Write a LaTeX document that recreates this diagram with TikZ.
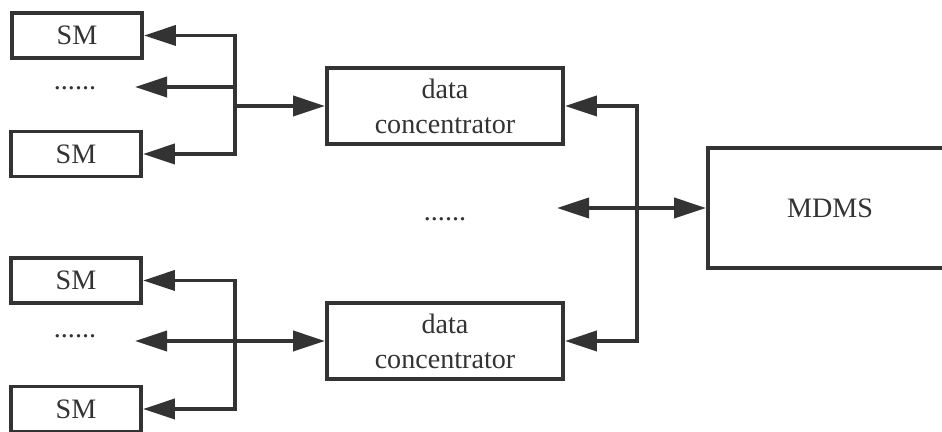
\documentclass[tikz,border=0pt]{standalone}
\usepackage{fontspec}
\setmainfont{Liberation Serif}
\usetikzlibrary{arrows.meta}
\definecolor{linegray}{HTML}{333333}

\begin{document}
\begin{tikzpicture}[x=2mm, y=-2mm,
    box/.style = {draw=linegray, line width=2.2pt, align=center,
        font=\fontsize{16}{20}\selectfont, text=linegray, inner sep=0pt},
    smbox/.style = {box, minimum width=26mm, minimum height=9mm},
    dcbox/.style = {box, minimum width=47.2mm, minimum height=15.2mm},
    dots/.style = {font=\fontsize{16}{20}\selectfont, text=linegray},
    arr/.style = {draw=linegray, line width=2.2pt,
        -{Triangle[length=6.4mm, width=4mm]}}]
  \useasboundingbox (0,0) rectangle (94.2,43.2);
  % meters
  \node (sm1) [smbox] at (7.7,3.55) {SM};
  \node (dt1) [dots] at (7.5,8.8) {......};
  \node (sm2) [smbox] at (7.6,15.4) {SM};
  \node (sm3) [smbox] at (7.6,28.05) {SM};
  \node (dt2) [dots] at (7.5,33.6) {......};
  \node (sm4) [smbox] at (7.6,40.9) {SM};
  % concentrators and MDMS
  \node (dc1) [dcbox] at (44.5,10.6) {data\\concentrator};
  \node (dc2) [dcbox] at (44.5,34.1) {data\\concentrator};
  \node (dt3) [dots] at (44.5,21.9) {......};
  \node (mdms) [box, minimum width=48.8mm, minimum height=24mm]
      at (83,20.8) {MDMS};
  % bus points
  \coordinate (b1) at (23.5,10.6);
  \coordinate (m1) at (13.5,8.7);
  \coordinate (b2) at (23.5,34.1);
  \coordinate (m2) at (13.5,34.1);
  \coordinate (r) at (63.7,20.8);
  \coordinate (m3) at (55.7,20.8);
  \draw[arr] (b1) |- (sm1);
  \draw[arr] (b1) |- (m1);
  \draw[arr] (b1) |- (sm2);
  \draw[arr] (b1) -- (dc1);
  \draw[arr] (b2) |- (sm3);
  \draw[arr] (b2) -- (m2);
  \draw[arr] (b2) |- (sm4);
  \draw[arr] (b2) -- (dc2);
  \draw[arr] (r) |- (dc1);
  \draw[arr] (r) |- (dc2);
  \draw[arr] (r) -- (m3);
  \draw[arr] (r) -- (mdms);
\end{tikzpicture}
\end{document}
